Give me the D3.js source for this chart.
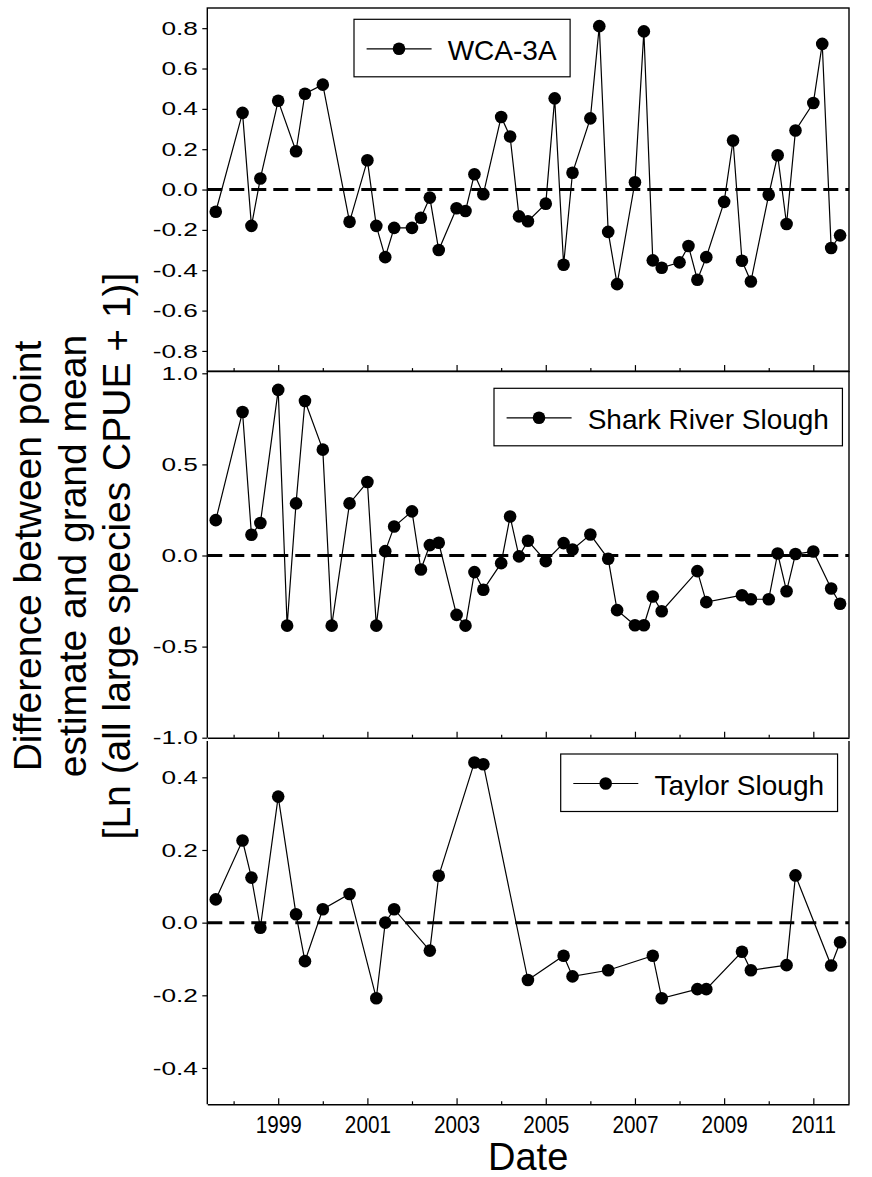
<!DOCTYPE html>
<html>
<head>
<meta charset="utf-8">
<script src="https://cdn.jsdelivr.net/npm/d3@7/dist/d3.min.js"></script>
<style>
  html, body { margin: 0; padding: 0; background: #fff; }
  svg { display: block; font-family: "Liberation Sans", Arial, sans-serif; }
</style>
</head>
<body>
<svg id="chart" width="872" height="1177"></svg>
<script>
// Sampling dates (decimal years) and deviations from the grand mean, per site
const wcaDates = [1997.6, 1998.2, 1998.4, 1998.6, 1999.0, 1999.4, 1999.6, 2000.0, 2000.6, 2001.0,
  2001.2, 2001.4, 2001.6, 2002.0, 2002.2, 2002.4, 2002.6, 2003.0, 2003.2, 2003.4,
  2003.6, 2004.0, 2004.2, 2004.4, 2004.6, 2005.0, 2005.2, 2005.4, 2005.6, 2006.0,
  2006.2, 2006.4, 2006.6, 2007.0, 2007.2, 2007.4, 2007.6, 2008.0, 2008.2, 2008.4,
  2008.6, 2009.0, 2009.2, 2009.4, 2009.6, 2010.0, 2010.2, 2010.4, 2010.6, 2011.0,
  2011.2, 2011.4, 2011.6];
const wcaValues = [-0.11, 0.38, -0.18, 0.055, 0.44, 0.19, 0.475, 0.52, -0.16, 0.145,
  -0.18, -0.335, -0.19, -0.19, -0.14, -0.04, -0.30, -0.093, -0.106, 0.076,
  -0.023, 0.36, 0.263, -0.133, -0.157, -0.07, 0.452, -0.373, 0.083, 0.353,
  0.81, -0.21, -0.469, 0.036, 0.784, -0.351, -0.388, -0.361, -0.28, -0.447,
  -0.335, -0.061, 0.243, -0.353, -0.456, -0.026, 0.17, -0.171, 0.293, 0.429,
  0.722, -0.29, -0.227];

const srsDates = [1997.6, 1998.2, 1998.4, 1998.6, 1999.0, 1999.2, 1999.4, 1999.6, 2000.0, 2000.2,
  2000.6, 2001.0, 2001.2, 2001.4, 2001.6, 2002.0, 2002.2, 2002.4, 2002.6, 2003.0,
  2003.2, 2003.4, 2003.6, 2004.0, 2004.2, 2004.4, 2004.6, 2005.0, 2005.4, 2005.6,
  2006.0, 2006.4, 2006.6, 2007.0, 2007.2, 2007.4, 2007.6, 2008.4, 2008.6, 2009.4,
  2009.6, 2010.0, 2010.2, 2010.4, 2010.6, 2011.0, 2011.4, 2011.6];
const srsValues = [0.194, 0.788, 0.114, 0.178, 0.909, -0.385, 0.286, 0.848, 0.581, -0.385,
  0.286, 0.403, -0.385, 0.024, 0.159, 0.242, -0.077, 0.057, 0.070, -0.326,
  -0.385, -0.091, -0.188, -0.042, 0.214, -0.005, 0.081, -0.031, 0.068, 0.033,
  0.115, -0.018, -0.300, -0.383, -0.383, -0.225, -0.306, -0.086, -0.256, -0.218,
  -0.240, -0.240, 0.011, -0.196, 0.008, 0.022, -0.181, -0.265];

const tsDates = [1997.6, 1998.2, 1998.4, 1998.6, 1999.0, 1999.4, 1999.6, 2000.0, 2000.6, 2001.2,
  2001.4, 2001.6, 2002.4, 2002.6, 2003.4, 2003.6, 2004.6, 2005.4, 2005.6, 2006.4,
  2007.4, 2007.6, 2008.4, 2008.6, 2009.4, 2009.6, 2010.4, 2010.6, 2011.4, 2011.6];
const tsValues = [0.064, 0.226, 0.124, -0.014, 0.347, 0.023, -0.106, 0.037, 0.079, -0.208,
  0.0, 0.037, -0.077, 0.129, 0.441, 0.436, -0.158, -0.091, -0.148, -0.131,
  -0.091, -0.208, -0.183, -0.183, -0.080, -0.131, -0.117, 0.130, -0.118, -0.054];

// Axis ticks
const yearTicks = [1998, 1999, 2000, 2001, 2002, 2003, 2004, 2005, 2006, 2007, 2008, 2009, 2010, 2011];
const yearLabels = ["", "1999", "", "2001", "", "2003", "", "2005", "", "2007", "", "2009", "", "2011"];
const wcaTicks = [0.8, 0.6, 0.4, 0.2, 0.0, -0.2, -0.4, -0.6, -0.8];
const srsTicks = [1.0, 0.5, 0.0, -0.5, -1.0];
const tsTicks = [0.4, 0.2, 0.0, -0.2, -0.4];

const seriesNames = ["WCA-3A", "Shark River Slough", "Taylor Slough"];
const yTitleLines = ["Difference between point", "estimate and grand mean", "[Ln (all large species CPUE + 1)]"];
const xTitle = "Date";

// ---- layout ----
const svg = d3.select("#chart");
const left = 207.3, right = 849;
const x = d3.scaleLinear().domain([1997.41, 2011.8]).range([left, right]);

const panels = [
  { name: seriesNames[0], dates: wcaDates, values: wcaValues, ticks: wcaTicks,
    domain: [-0.9, 0.9], top: 8, bottom: 371.1, fullBox: true,
    legend: { x: 354, y: 19.3 } },
  { name: seriesNames[1], dates: srsDates, values: srsValues, ticks: srsTicks,
    domain: [-1, 1], top: 373.3, bottom: 737.7, sideTop: 371.1,
    legend: { x: 494, y: 388.3 } },
  { name: seriesNames[2], dates: tsDates, values: tsValues, ticks: tsTicks,
    domain: [-0.5, 0.5], top: 741, bottom: 1104.3, sideTop: 741,
    legend: { x: 560.7, y: 754 }, labels: true }
];

const yTickScaleX = 1.38;
const xTickScaleX = 0.9;

panels.forEach(p => {
  const y = d3.scaleLinear().domain(p.domain).range([p.bottom, p.top]);
  const g = svg.append("g");

  // frame
  if (p.fullBox) {
    g.append("rect")
      .attr("x", left).attr("y", p.top)
      .attr("width", right - left).attr("height", p.bottom - p.top)
      .attr("fill", "none").attr("stroke", "#000").attr("stroke-width", 1.4);
  } else {
    g.append("path")
      .attr("d", `M${left},${p.sideTop}V${p.bottom}M${right},${p.sideTop}V${p.bottom}`)
      .attr("fill", "none").attr("stroke", "#000").attr("stroke-width", 1.4);
  }

  // bottom axis with inward ticks
  const xAxis = d3.axisBottom(x)
    .tickValues(yearTicks)
    .tickSizeInner(-6).tickSizeOuter(0).tickPadding(12.5)
    .tickFormat((d, i) => p.labels ? yearLabels[i] : "");
  const xg = g.append("g").attr("transform", `translate(0,${p.bottom})`).call(xAxis);
  xg.select(".domain").attr("stroke-width", 1.4);
  xg.selectAll(".tick line").attr("stroke-width", 1.2)
    .attr("y2", (d, i) => yearLabels[i] ? -6 : -3);
  xg.selectAll(".tick text")
    .attr("font-family", "'Liberation Sans', Arial, sans-serif")
    .attr("font-size", 23).attr("fill", "#000")
    .attr("transform", `scale(${xTickScaleX},1)`);

  // left axis with outward ticks
  const fmt = v => (Math.abs(v) < 1e-9 ? 0 : v).toFixed(1);
  const yAxis = d3.axisLeft(y)
    .tickValues(p.ticks).tickFormat(fmt)
    .tickSizeInner(5).tickSizeOuter(0).tickPadding(4);
  const yg = g.append("g").attr("transform", `translate(${left},0)`).call(yAxis);
  yg.select(".domain").remove();
  yg.selectAll(".tick line").attr("stroke-width", 1.2);
  yg.selectAll(".tick text")
    .attr("font-family", "'Liberation Sans', Arial, sans-serif")
    .attr("font-size", 19).attr("fill", "#000")
    .attr("x", -9.5 / yTickScaleX)
    .attr("transform", `scale(${yTickScaleX},1)`);

  // zero reference line
  g.append("line")
    .attr("x1", left).attr("x2", right)
    .attr("y1", y(0)).attr("y2", y(0))
    .attr("stroke", "#000").attr("stroke-width", 3)
    .attr("stroke-dasharray", "15,7");

  // series line and markers
  const pts = p.dates.map((d, i) => [d, p.values[i]]);
  const line = d3.line().x(d => x(d[0])).y(d => y(d[1]));
  g.append("path").datum(pts)
    .attr("d", line).attr("fill", "none")
    .attr("stroke", "#000").attr("stroke-width", 1.2);
  g.selectAll("circle.pt").data(pts).join("circle")
    .attr("class", "pt")
    .attr("cx", d => x(d[0])).attr("cy", d => y(d[1]))
    .attr("r", 6.3).attr("fill", "#000");

  // legend
  const lg = g.append("g").attr("transform", `translate(${p.legend.x},${p.legend.y})`);
  const boxH = 57.5;
  const txt = lg.append("text")
    .attr("x", 93.7).attr("y", 40.5)
    .attr("font-size", 28).attr("fill", "#000")
    .text(p.name);
  const tw = txt.node().getComputedTextLength();
  lg.insert("rect", "text")
    .attr("x", 0).attr("y", 0)
    .attr("width", 93.7 + tw + 13.5).attr("height", boxH)
    .attr("fill", "#fff").attr("stroke", "#000").attr("stroke-width", 1.2);
  lg.append("line")
    .attr("x1", 12.6).attr("x2", 77.6)
    .attr("y1", 29.5).attr("y2", 29.5)
    .attr("stroke", "#000").attr("stroke-width", 1.2);
  lg.append("circle")
    .attr("cx", 45).attr("cy", 29.5).attr("r", 6.3).attr("fill", "#000");
});

// axis titles
const yt = svg.append("text")
  .attr("transform", "translate(0,556) rotate(-90)")
  .attr("text-anchor", "middle")
  .attr("font-size", 39).attr("fill", "#000");
yTitleLines.forEach((t, i) => {
  yt.append("tspan").attr("x", 0).attr("y", 41 + i * 44.5).text(t);
});

svg.append("text")
  .attr("x", (left + right) / 2).attr("y", 1170)
  .attr("text-anchor", "middle")
  .attr("font-size", 38).attr("fill", "#000")
  .text(xTitle);
</script>
</body>
</html>
